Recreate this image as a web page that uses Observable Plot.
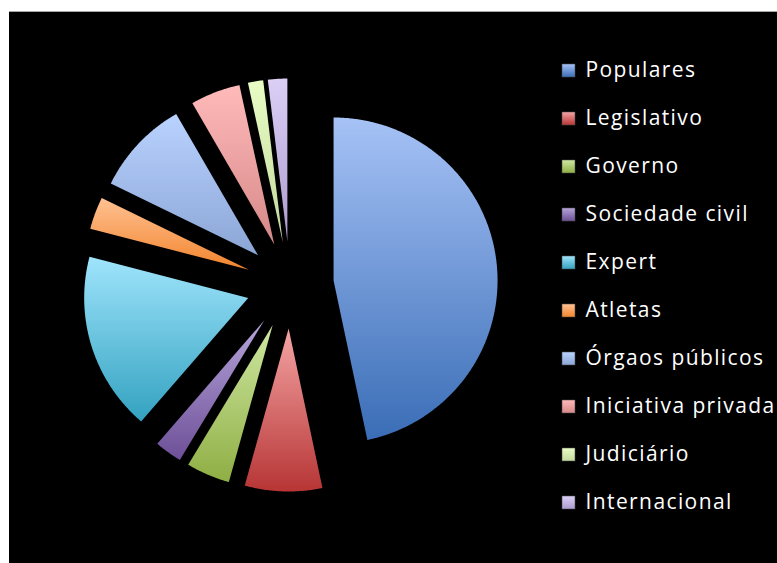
<!DOCTYPE html>
<html>
<head>
<meta charset="utf-8">
<script src="https://cdn.jsdelivr.net/npm/d3@7"></script>
<script src="https://cdn.jsdelivr.net/npm/@observablehq/plot@0.6"></script>
<style>
  html, body { margin: 0; padding: 0; background: #fff; }
  #frame { position: absolute; left: 9px; top: 11px; width: 768px; height: 552px; background: #000; border-top: 1px solid #a6a6a6; overflow: hidden; }
  #pie { position: absolute; left: 0; top: 0; }
  #legend { position: absolute; left: 531px; top: 0; }
</style>
</head>
<body>
<div id="frame"><div id="pie"></div><div id="legend"></div></div>
<script>
// ---- data ----
const categories = ["Populares", "Legislativo", "Governo", "Sociedade civil", "Expert", "Atletas", "Órgaos públicos", "Iniciativa privada", "Judiciário", "Internacional"];
const shares = [46.6, 7.6, 4.3, 2.7, 17.7, 3.2, 9.4, 4.9, 1.5, 1.9];
const lightColors = ["#a6c2f6", "#f4a4a4", "#cfe8a2", "#b6a5da", "#9fe4fc", "#ffc193", "#b9d2ff", "#ffbaba", "#e8fcc4", "#dbcff6"];
const darkColors  = ["#3a6db6", "#b73535", "#8fae44", "#6d4f97", "#33a2c0", "#f2842c", "#8ba5d5", "#d78888", "#c3da9e", "#ac9bce"];

// ---- layout constants ----
const pieW = 540, pieH = 552;
const cx = 281, cy = 273;       // pie centre inside the frame (px)
const rx = 164, ry = 163;       // pie radius (px)
const explode = 0.267;          // explosion distance, in radius units

// ---- slices ----
const arcs = d3.pie().sort(null).value(d => d)(shares);
const pts = [];
arcs.forEach((a, i) => {
  const mid = (a.startAngle + a.endAngle) / 2;
  const ox = explode * Math.sin(mid), oy = explode * Math.cos(mid);
  const n = Math.max(2, Math.ceil((a.endAngle - a.startAngle) / (Math.PI / 360)));
  for (let k = 0; k <= n; k++) {
    const t = a.startAngle + (a.endAngle - a.startAngle) * k / n;
    pts.push({cat: categories[i], fill: `url(#pg${i})`, x1: ox + Math.sin(t), y1: oy + Math.cos(t), x2: ox, y2: oy});
  }
});

const pie = Plot.plot({
  width: pieW, height: pieH, margin: 0,
  x: {domain: [-cx / rx, (pieW - cx) / rx], axis: null},
  y: {domain: [-(pieH - cy) / ry, cy / ry], axis: null},
  color: {type: "identity"},
  style: {background: "transparent", overflow: "visible"},
  marks: [
    Plot.area(pts, {x1: "x1", y1: "y1", x2: "x2", y2: "y2", z: "cat", fill: "fill", curve: "linear"})
  ]
});
function addGradients(svg, prefix) {
  const defs = d3.create("svg:defs");
  categories.forEach((c, i) => {
    const g = defs.append("linearGradient").attr("id", `${prefix}${i}`)
      .attr("x1", 0).attr("y1", 0).attr("x2", 0).attr("y2", 1);
    g.append("stop").attr("offset", "0%").attr("stop-color", lightColors[i]);
    g.append("stop").attr("offset", "100%").attr("stop-color", darkColors[i]);
  });
  svg.insertBefore(defs.node(), svg.firstChild);
}
addGradients(pie, "pg");
document.getElementById("pie").appendChild(pie);

// ---- legend ----
const legend = Plot.plot({
  width: 237, height: 552,
  marginTop: 57, marginBottom: 62, marginLeft: 0, marginRight: 0,
  x: {axis: null},
  y: {type: "point", domain: categories, padding: 0, axis: null},
  color: {type: "identity"},
  style: {background: "transparent", fontFamily: "'Open Sans', sans-serif", letterSpacing: "1.4px", overflow: "visible"},
  marks: [
    Plot.dot(categories, {y: d => d, fill: (d, i) => `url(#lg${i})`, symbol: "square", r: 7.3, frameAnchor: "left", dx: 28, stroke: "#555", strokeWidth: 0.5}),
    Plot.text(categories, {y: d => d, text: d => d, frameAnchor: "left", dx: 45, textAnchor: "start", fill: "#ffffff", fontSize: 21})
  ]
});
addGradients(legend, "lg");
document.getElementById("legend").appendChild(legend);
</script>
</body>
</html>
